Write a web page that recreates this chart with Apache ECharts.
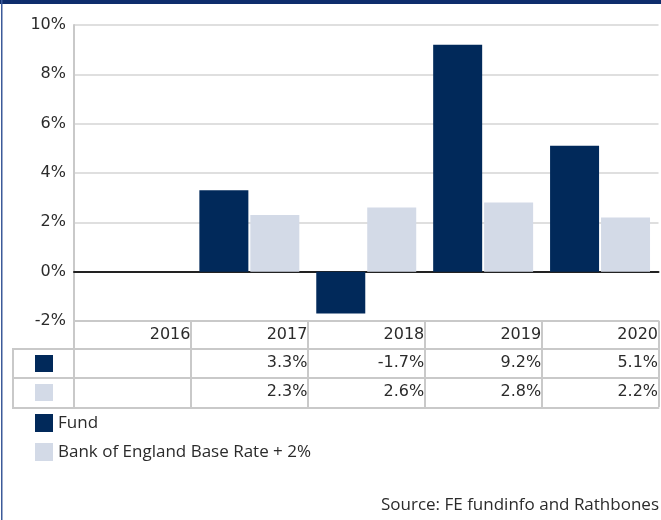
<!DOCTYPE html>
<html>
<head>
<meta charset="utf-8">
<script src="https://cdn.jsdelivr.net/npm/echarts@6/dist/echarts.min.js"></script>
<style>
html,body{margin:0;padding:0;background:#fff;}
#chart{width:661px;height:520px;}
</style>
</head>
<body>
<div id="chart"></div>
<script>
const categories = ['2016', '2017', '2018', '2019', '2020'];
const fundValues = [null, 3.3, -1.7, 9.2, 5.1];
const benchmarkValues = [null, 2.3, 2.6, 2.8, 2.2];
const seriesNames = ['Fund', 'Bank of England Base Rate + 2%'];
const yTicks = { min: -2, max: 10, interval: 2 };
const sourceText = 'Source: FE fundinfo and Rathbones';

const FUND_COLOR = '#01295a';
const BENCH_COLOR = '#d3dae7';
const LINE_GRAY = '#c9c9c9';
const TEXT = '#2b2b2b';
const TABLE_FONT = 'DejaVu Sans';
const LEGEND_FONT = 'Open Sans';

function fmt(v) { return v == null ? '' : v.toFixed(1) + '%'; }

function tableAxis(offset, formatter, showTicks) {
  return {
    type: 'category',
    data: categories,
    gridIndex: 0,
    position: 'bottom',
    offset: offset,
    boundaryGap: true,
    axisLine: { show: true, onZero: false, lineStyle: { color: LINE_GRAY, width: 2 } },
    axisTick: { show: showTicks, length: 29, interval: 0, lineStyle: { color: LINE_GRAY, width: 2 } },
    axisLabel: {
      show: !!formatter,
      interval: 0,
      margin: 6,
      formatter: formatter || '',
      rich: { r: { width: 116, align: 'right', fontFamily: TABLE_FONT, fontSize: 16, color: TEXT } }
    },
    splitLine: { show: false }
  };
}

const chart = echarts.init(document.getElementById('chart'), null, { renderer: 'canvas' });

chart.setOption({
  animation: false,
  backgroundColor: '#fff',
  grid: { left: 74, right: 2, top: 25, bottom: 199, containLabel: false },
  xAxis: [
    {
      type: 'category',
      data: categories,
      gridIndex: 0,
      position: 'bottom',
      axisLine: { show: true, onZero: true, lineStyle: { color: '#222', width: 2 } },
      axisTick: { show: false },
      axisLabel: { show: false },
      splitLine: { show: false }
    },
    tableAxis(0, (v, i) => '{r|' + categories[i] + '}', true),
    tableAxis(28, (v, i) => '{r|' + fmt(fundValues[i]) + '}', true),
    tableAxis(57, (v, i) => '{r|' + fmt(benchmarkValues[i]) + '}', true),
    tableAxis(87, null, false)
  ],
  yAxis: {
    type: 'value',
    min: yTicks.min,
    max: yTicks.max,
    interval: yTicks.interval,
    axisLine: { show: true, lineStyle: { color: LINE_GRAY, width: 2 } },
    axisTick: { show: false },
    axisLabel: {
      margin: 8,
      fontFamily: TABLE_FONT,
      fontSize: 16,
      color: TEXT,
      formatter: v => v + '%'
    },
    splitLine: { show: true, lineStyle: { color: '#d4d4d4', width: 1.5 } }
  },
  legend: [
    {
      data: seriesNames,
      orient: 'vertical',
      left: 35,
      top: 355,
      padding: 0,
      itemWidth: 18,
      itemHeight: 17,
      itemGap: 12,
      icon: 'rect',
      selectedMode: false,
      formatter: () => '',
      textStyle: { fontSize: 1 }
    },
    {
      data: seriesNames,
      orient: 'vertical',
      left: 35,
      top: 414,
      padding: 0,
      itemWidth: 18,
      itemHeight: 18,
      itemGap: 11,
      icon: 'rect',
      selectedMode: false,
      textStyle: { fontFamily: LEGEND_FONT, fontSize: 17, color: TEXT }
    }
  ],
  series: [
    {
      name: seriesNames[0],
      type: 'bar',
      xAxisIndex: 0,
      data: fundValues,
      barWidth: 49,
      barGap: '4%',
      itemStyle: { color: FUND_COLOR }
    },
    {
      name: seriesNames[1],
      type: 'bar',
      xAxisIndex: 0,
      data: benchmarkValues,
      barWidth: 49,
      barGap: '4%',
      itemStyle: { color: BENCH_COLOR }
    }
  ],
  graphic: [
    { type: 'rect', left: 0, top: 0, shape: { width: 661, height: 4 }, style: { fill: '#0e2d6c' }, silent: true },
    { type: 'rect', left: 1, top: 0, shape: { width: 1.5, height: 520 }, style: { fill: '#3c5a99' }, silent: true },
    { type: 'polyline', shape: { points: [[74, 349], [13, 349], [13, 408], [74, 408]] }, style: { stroke: LINE_GRAY, lineWidth: 2, fill: null }, silent: true },
    { type: 'line', shape: { x1: 13, y1: 378, x2: 74, y2: 378 }, style: { stroke: LINE_GRAY, lineWidth: 2 }, silent: true },
    { type: 'text', right: 2, top: 497, style: { text: sourceText, font: '17px "Open Sans"', fill: TEXT }, silent: true }
  ]
});
</script>
</body>
</html>
